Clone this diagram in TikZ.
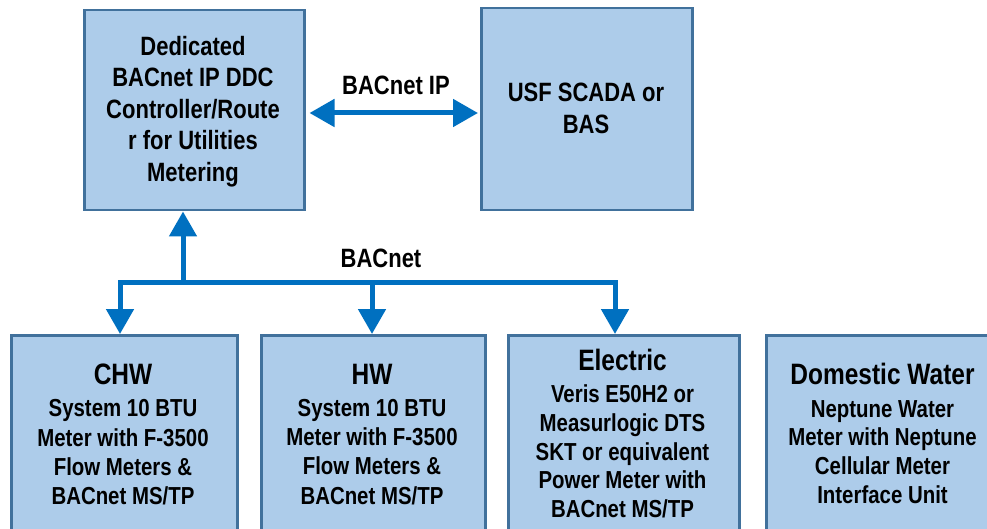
\documentclass[tikz,border=0pt]{standalone}
\usepackage{fontspec}
\setmainfont{Liberation Sans}[FakeStretch=0.83]
\usetikzlibrary{arrows.meta}
\definecolor{boxfill}{RGB}{173,204,234}
\definecolor{boxline}{RGB}{65,113,156}
\definecolor{arrblue}{RGB}{0,112,192}
\begin{document}
\begin{tikzpicture}[x=1pt,y=-1pt,
  box/.style={draw=boxline, fill=boxfill, line width=2.5pt, inner sep=0pt, anchor=north west},
  toptxt/.style={anchor=north, align=center, inner sep=0pt, font=\bfseries\fontsize{26.5}{31.5}\selectfont},
  bottxt/.style={anchor=north, align=center, inner sep=0pt, font=\bfseries\fontsize{24.6}{29.2}\selectfont},
  lbl/.style={anchor=base, inner sep=0pt, font=\bfseries\fontsize{26.5}{30}\selectfont},
  conn/.style={draw=arrblue, line width=5pt},
  arr/.style={conn, -{Triangle[width=27pt,length=25pt]}},
  darr/.style={conn, {Triangle[width=27pt,length=25pt]}-{Triangle[width=27pt,length=25pt]}}
]
\useasboundingbox (0,0) rectangle (987,529);
\clip (0,0) rectangle (987,529);
\newcommand{\ttl}[1]{{\fontsize{29.5}{29.2}\selectfont #1}}

% boxes
\node[box, minimum width=220pt, minimum height=200pt] (ctrl) at (83,9) {};
\node[box, minimum width=211pt, minimum height=202pt] (scada) at (480,7) {};
\node[box, minimum width=226pt, minimum height=212pt] (chw) at (10,334) {};
\node[box, minimum width=224pt, minimum height=212pt] (hw) at (260,334) {};
\node[box, minimum width=231pt, minimum height=212pt] (elec) at (507,334) {};
\node[box, minimum width=235pt, minimum height=212pt] (dw) at (765,334) {};

% texts
\node[toptxt] (ctrlT) at (193,36) {Dedicated\\BACnet IP DDC\\Controller/Route\\r for Utilities\\Metering};
\node[toptxt, font=\bfseries\fontsize{26.5}{32}\selectfont] (scadaT) at (586,83) {USF SCADA or\\BAS};
\node[bottxt] (chwT) at (123,364) {\ttl{CHW}\\[2.8pt]System 10 BTU\\Meter with F-3500\\Flow Meters \&\\BACnet MS/TP};
\node[bottxt] (hwT) at (372,364) {\ttl{HW}\\[2.8pt]System 10 BTU\\Meter with F-3500\\Flow Meters \&\\BACnet MS/TP};
\node[bottxt, font=\bfseries\fontsize{24.6}{28.75}\selectfont] (elecT) at (622.5,349) {\ttl{Electric}\\[3.2pt]Veris E50H2 or\\Measurlogic DTS\\SKT or equivalent\\Power Meter with\\BACnet MS/TP};
\node[bottxt, font=\bfseries\fontsize{24.6}{28.7}\selectfont] (dwT) at (882.5,363) {\ttl{Domestic Water}\\[4pt]Neptune Water\\Meter with Neptune\\Cellular Meter\\Interface Unit};

% connectors
\coordinate (ipy) at (0,113);
\draw[darr, shorten <=4pt, shorten >=2pt] (ctrl.east |- ipy) -- (scada.west |- ipy);
\node[lbl] (ipL) at (396,95) {BACnet IP};

\coordinate (busJ) at (183,282);
\coordinate (cL) at (120,282);
\coordinate (cH) at (372,282);
\coordinate (cE) at (615,282);
\draw[arr] (busJ) -- (busJ |- ctrl.south);
\draw[conn] (cL) -- (cE);
\draw[arr] ([xshift=2.5pt]cL) -| (cL |- chw.north);
\draw[arr] (cH) -- (cH |- hw.north);
\draw[arr] ([xshift=-2.5pt]cE) -| (cE |- elec.north);
\node[lbl] (busL) at (381,268) {BACnet};
\end{tikzpicture}
\end{document}
